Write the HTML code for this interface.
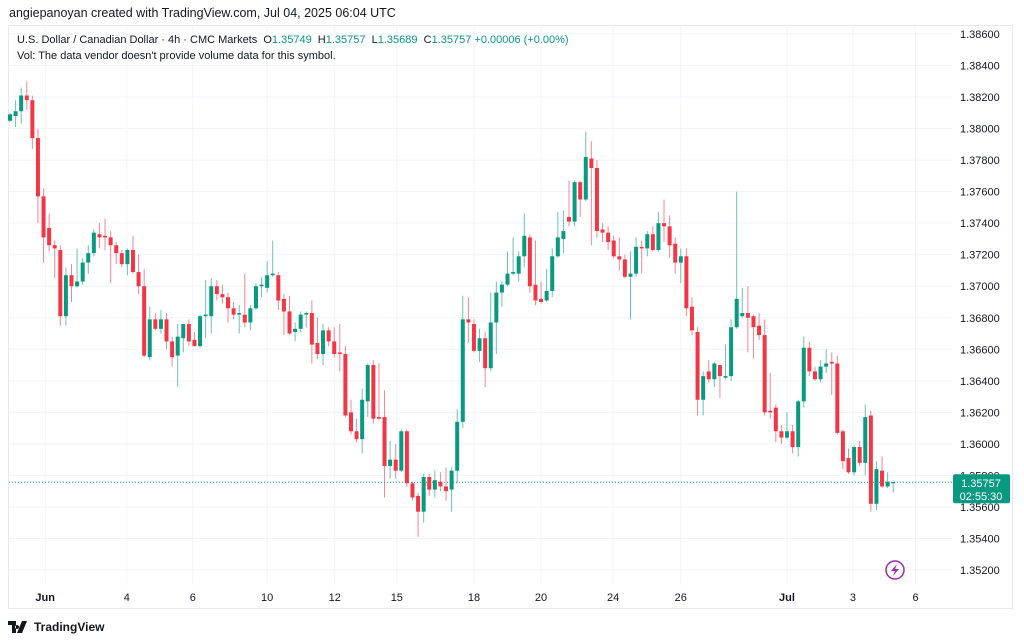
<!DOCTYPE html>
<html><head><meta charset="utf-8">
<style>
body{margin:0;width:1024px;height:642px;background:#fff;font-family:"Liberation Sans",sans-serif;overflow:hidden;position:relative}
.hdr{position:absolute;left:9px;top:6px;font-size:12.5px;color:#131722}
.frame{position:absolute;left:8px;top:25px;width:1005px;height:584px;border:1px solid #e6e8ee;box-sizing:border-box}
.leg{position:absolute;left:17px;font-size:11px;color:#131722;white-space:nowrap}
.g{color:#089981}
.foot{position:absolute;left:8px;top:620px;font-size:12px;font-weight:bold;color:#131722;display:flex;align-items:center;gap:4px}
</style></head><body>
<div class="hdr">angiepanoyan created with TradingView.com, Jul 04, 2025 06:04 UTC</div>
<div class="frame"></div>
<svg id="chart" width="1024" height="642" style="position:absolute;left:0;top:0"></svg>
<div class="leg" style="top:34px">U.S. Dollar / Canadian Dollar · 4h · CMC Markets &nbsp;O<span class="g">1.35749</span> &nbsp;H<span class="g">1.35757</span> &nbsp;L<span class="g">1.35689</span> &nbsp;C<span class="g">1.35757</span> <span class="g">+0.00006 (+0.00%)</span></div>
<div class="leg" style="top:50px">Vol: The data vendor doesn't provide volume data for this symbol.</div>
<div class="foot"><svg width="22" height="12" viewBox="0 0 22 12"><path d="M0 0h8v12H4V4H0z M9 4a2 2 0 1 0 0.1 0z M14 0h5l-5 12h-5z" fill="#131722"/></svg>TradingView</div>
<script>
const opens=[1.3805,1.3808,1.3811,1.3821,1.3818,1.3794,1.3757,1.3737,1.3726,1.3723,1.3681,1.3707,1.3700,1.3703,1.3715,1.3721,1.3733,1.3732,1.3731,1.3726,1.3721,1.3714,1.3723,1.3709,1.3700,1.3655,1.3679,1.3673,1.3679,1.3665,1.3656,1.3667,1.3676,1.3666,1.3662,1.3681,1.3681,1.3700,1.3695,1.3693,1.3686,1.3682,1.3682,1.3677,1.3686,1.3700,1.3699,1.3707,1.3707,1.3692,1.3684,1.3671,1.3673,1.3682,1.3683,1.3664,1.3657,1.3672,1.3665,1.3658,1.3657,1.3620,1.3608,1.3603,1.3627,1.3650,1.3617,1.3617,1.3586,1.3590,1.3583,1.3608,1.3575,1.3567,1.3557,1.3579,1.3571,1.3576,1.3573,1.3571,1.3583,1.3614,1.3679,1.3676,1.3659,1.3667,1.3648,1.3677,1.3696,1.3701,1.3708,1.3708,1.3719,1.3731,1.3701,1.3692,1.3691,1.3697,1.3719,1.3730,1.3744,1.3741,1.3766,1.3755,1.3781,1.3775,1.3736,1.3734,1.3729,1.3719,1.3717,1.3706,1.3708,1.3725,1.3724,1.3733,1.3723,1.3740,1.3738,1.3727,1.3715,1.3719,1.3687,1.3671,1.3628,1.3646,1.3641,1.3650,1.3642,1.3643,1.3674,1.3681,1.3683,1.3681,1.3675,1.3669,1.3621,1.3623,1.3608,1.3604,1.3608,1.3598,1.3627,1.3661,1.3646,1.3641,1.3649,1.3652,1.3651,1.3608,1.3591,1.3582,1.3598,1.3588,1.3618,1.3562,1.3583,1.3573,1.3575];
const highs=[1.3810,1.3818,1.3826,1.3830,1.3821,1.3800,1.3762,1.3746,1.3729,1.3726,1.3712,1.3714,1.3724,1.3718,1.3726,1.3736,1.3740,1.3743,1.3735,1.3728,1.3723,1.3724,1.3732,1.3720,1.3711,1.3687,1.3683,1.3685,1.3683,1.3668,1.3676,1.3676,1.3679,1.3671,1.3682,1.3704,1.3705,1.3704,1.3701,1.3696,1.3690,1.3688,1.3708,1.3688,1.3702,1.3706,1.3716,1.3729,1.3709,1.3695,1.3694,1.3677,1.3684,1.3684,1.3691,1.3680,1.3676,1.3674,1.3674,1.3676,1.3662,1.3628,1.3616,1.3635,1.3651,1.3653,1.3651,1.3634,1.3602,1.3600,1.3609,1.3609,1.3576,1.3569,1.3581,1.3581,1.3583,1.3582,1.3585,1.3585,1.3622,1.3694,1.3693,1.3679,1.3673,1.3671,1.3696,1.3703,1.3703,1.3722,1.3731,1.3722,1.3746,1.3733,1.3729,1.3703,1.3711,1.3724,1.3747,1.3748,1.3767,1.3767,1.3767,1.3798,1.3792,1.3780,1.3740,1.3738,1.3732,1.3731,1.3720,1.3722,1.3731,1.3729,1.3735,1.3738,1.3747,1.3755,1.3745,1.3731,1.3724,1.3724,1.3693,1.3674,1.3646,1.3653,1.3652,1.3650,1.3663,1.3679,1.3760,1.3699,1.3700,1.3682,1.3683,1.3679,1.3645,1.3625,1.3612,1.3620,1.3612,1.3628,1.3668,1.3665,1.3649,1.3653,1.3660,1.3658,1.3656,1.3609,1.3597,1.3599,1.3602,1.3625,1.3621,1.3589,1.3592,1.3582,1.3576];
const lows=[1.3804,1.3801,1.3803,1.3812,1.3787,1.3740,1.3715,1.3722,1.3705,1.3675,1.3675,1.3690,1.3699,1.3701,1.3708,1.3719,1.3724,1.3723,1.3702,1.3714,1.3712,1.3707,1.3708,1.3695,1.3655,1.3653,1.3672,1.3670,1.3660,1.3649,1.3636,1.3658,1.3662,1.3662,1.3661,1.3667,1.3670,1.3691,1.3689,1.3677,1.3679,1.3670,1.3674,1.3672,1.3685,1.3693,1.3696,1.3706,1.3685,1.3669,1.3669,1.3665,1.3671,1.3674,1.3651,1.3654,1.3650,1.3662,1.3655,1.3646,1.3617,1.3606,1.3601,1.3594,1.3617,1.3613,1.3615,1.3566,1.3578,1.3578,1.3582,1.3573,1.3564,1.3541,1.3550,1.3567,1.3566,1.3570,1.3564,1.3557,1.3575,1.3610,1.3664,1.3658,1.3652,1.3636,1.3646,1.3657,1.3687,1.3700,1.3707,1.3703,1.3712,1.3696,1.3688,1.3689,1.3690,1.3693,1.3718,1.3721,1.3738,1.3738,1.3744,1.3754,1.3726,1.3731,1.3728,1.3723,1.3718,1.3710,1.3705,1.3679,1.3706,1.3708,1.3719,1.3722,1.3722,1.3728,1.3718,1.3708,1.3702,1.3681,1.3669,1.3618,1.3618,1.3639,1.3636,1.3629,1.3641,1.3640,1.3673,1.3680,1.3658,1.3654,1.3666,1.3618,1.3616,1.3601,1.3600,1.3603,1.3594,1.3592,1.3623,1.3643,1.3640,1.3639,1.3645,1.3631,1.3606,1.3584,1.3581,1.3580,1.3586,1.3580,1.3557,1.3558,1.3572,1.3572,1.3569];
const closes=[1.3809,1.3811,1.3821,1.3818,1.3794,1.3757,1.3731,1.3726,1.3724,1.3681,1.3707,1.3700,1.3703,1.3715,1.3721,1.3734,1.3731,1.3731,1.3726,1.3721,1.3714,1.3723,1.3709,1.3700,1.3656,1.3679,1.3673,1.3679,1.3665,1.3655,1.3668,1.3676,1.3665,1.3662,1.3681,1.3682,1.3700,1.3695,1.3693,1.3686,1.3682,1.3683,1.3677,1.3686,1.3700,1.3701,1.3707,1.3708,1.3691,1.3684,1.3670,1.3673,1.3682,1.3683,1.3663,1.3657,1.3672,1.3665,1.3657,1.3657,1.3618,1.3608,1.3603,1.3628,1.3650,1.3616,1.3616,1.3586,1.3590,1.3583,1.3608,1.3575,1.3566,1.3557,1.3579,1.3571,1.3577,1.3573,1.3570,1.3583,1.3614,1.3679,1.3677,1.3659,1.3667,1.3648,1.3677,1.3696,1.3701,1.3708,1.3709,1.3719,1.3732,1.3700,1.3691,1.3690,1.3697,1.3719,1.3731,1.3735,1.3741,1.3766,1.3755,1.3782,1.3775,1.3735,1.3734,1.3728,1.3719,1.3717,1.3706,1.3708,1.3725,1.3724,1.3733,1.3723,1.3740,1.3738,1.3726,1.3715,1.3719,1.3686,1.3672,1.3628,1.3643,1.3641,1.3651,1.3643,1.3643,1.3674,1.3692,1.3683,1.3680,1.3674,1.3669,1.3620,1.3620,1.3608,1.3604,1.3608,1.3598,1.3627,1.3661,1.3646,1.3641,1.3649,1.3651,1.3651,1.3607,1.3589,1.3582,1.3598,1.3588,1.3617,1.3562,1.3584,1.3573,1.3576,1.35757];
const priceTicks=[1.386,1.384,1.382,1.380,1.378,1.376,1.374,1.372,1.370,1.368,1.366,1.364,1.362,1.360,1.358,1.356,1.354,1.352];
const dateLabels=["Jun","4","6","10","12","15","18","20","24","26","Jul","3","6"];
const dateIdx=[6.3,20.9,32.7,46,58.1,69.2,83,95,107.9,120,139,150.8,162];
const lastPrice=1.35757;

const svg=document.getElementById('chart');
const NS='http://www.w3.org/2000/svg';
const yS=p=>34+(1.386-p)/0.002*31.53;
const xS=i=>10+i*5.59;
function mk(t,a){const e=document.createElementNS(NS,t);for(const k in a)e.setAttribute(k,a[k]);svg.appendChild(e);return e;}
priceTicks.forEach(p=>{
  const l=mk('line',{x1:9,x2:952,y1:yS(p),y2:yS(p),stroke:'#f0f3fa','stroke-width':1});
  
  
  const t=mk('text',{x:960,y:yS(p)+4,'font-size':11,fill:'#131722','font-family':'Liberation Sans, sans-serif'});
  t.textContent=p.toFixed(5);
  
  
});
dateLabels.forEach((d,k)=>{
  const x=xS(dateIdx[k]);
  const l=mk('line',{x1:x,x2:x,y1:26,y2:585,stroke:'#f0f3fa','stroke-width':1});
  
  
  const t=mk('text',{x:x,y:601,'font-size':11,fill:'#131722','text-anchor':'middle','font-family':'Liberation Sans, sans-serif','font-weight':(d=='Jun'||d=='Jul')?'bold':'normal'});
  t.textContent=d;
  
  
});
const pl=mk('line',{x1:9,x2:953,y1:yS(lastPrice),y2:yS(lastPrice),stroke:'#089981','stroke-width':1,'stroke-dasharray':'1 2'});


closes.forEach((c,i)=>{
  const o=opens[i],up=c>=o,col=up?'#089981':'#f23645',x=xS(i);
  const w=mk('line',{x1:x,x2:x,y1:yS(highs[i]),y2:yS(lows[i]),stroke:col,'stroke-opacity':0.6,'stroke-width':1});
  
  
  const t=yS(Math.max(o,c)),b=yS(Math.min(o,c));
  const r=mk('rect',{x:x-2,y:t,width:4,height:Math.max(1,b-t),fill:col});
  
  
});
const by=yS(lastPrice);
const box=mk('rect',{x:953,y:by-8,width:57,height:29,fill:'#089981',rx:2});


const t1=mk('text',{x:981,y:by+5,'font-size':11,fill:'#fff','text-anchor':'middle','font-family':'Liberation Sans, sans-serif'});
t1.textContent='1.35757';


const t2=mk('text',{x:981,y:by+18,'font-size':11,fill:'#fff','text-anchor':'middle','font-family':'Liberation Sans, sans-serif'});
t2.textContent='02:55:30';


const ic=mk('circle',{cx:895,cy:570,r:9,fill:'#fff',stroke:'#9c27b0','stroke-width':1.5});


const ip=mk('path',{d:'M897 564 L891 571 L895 571 L893 576 L899 569 L895 569 Z',fill:'#9c27b0'});


</script>
</body></html>
